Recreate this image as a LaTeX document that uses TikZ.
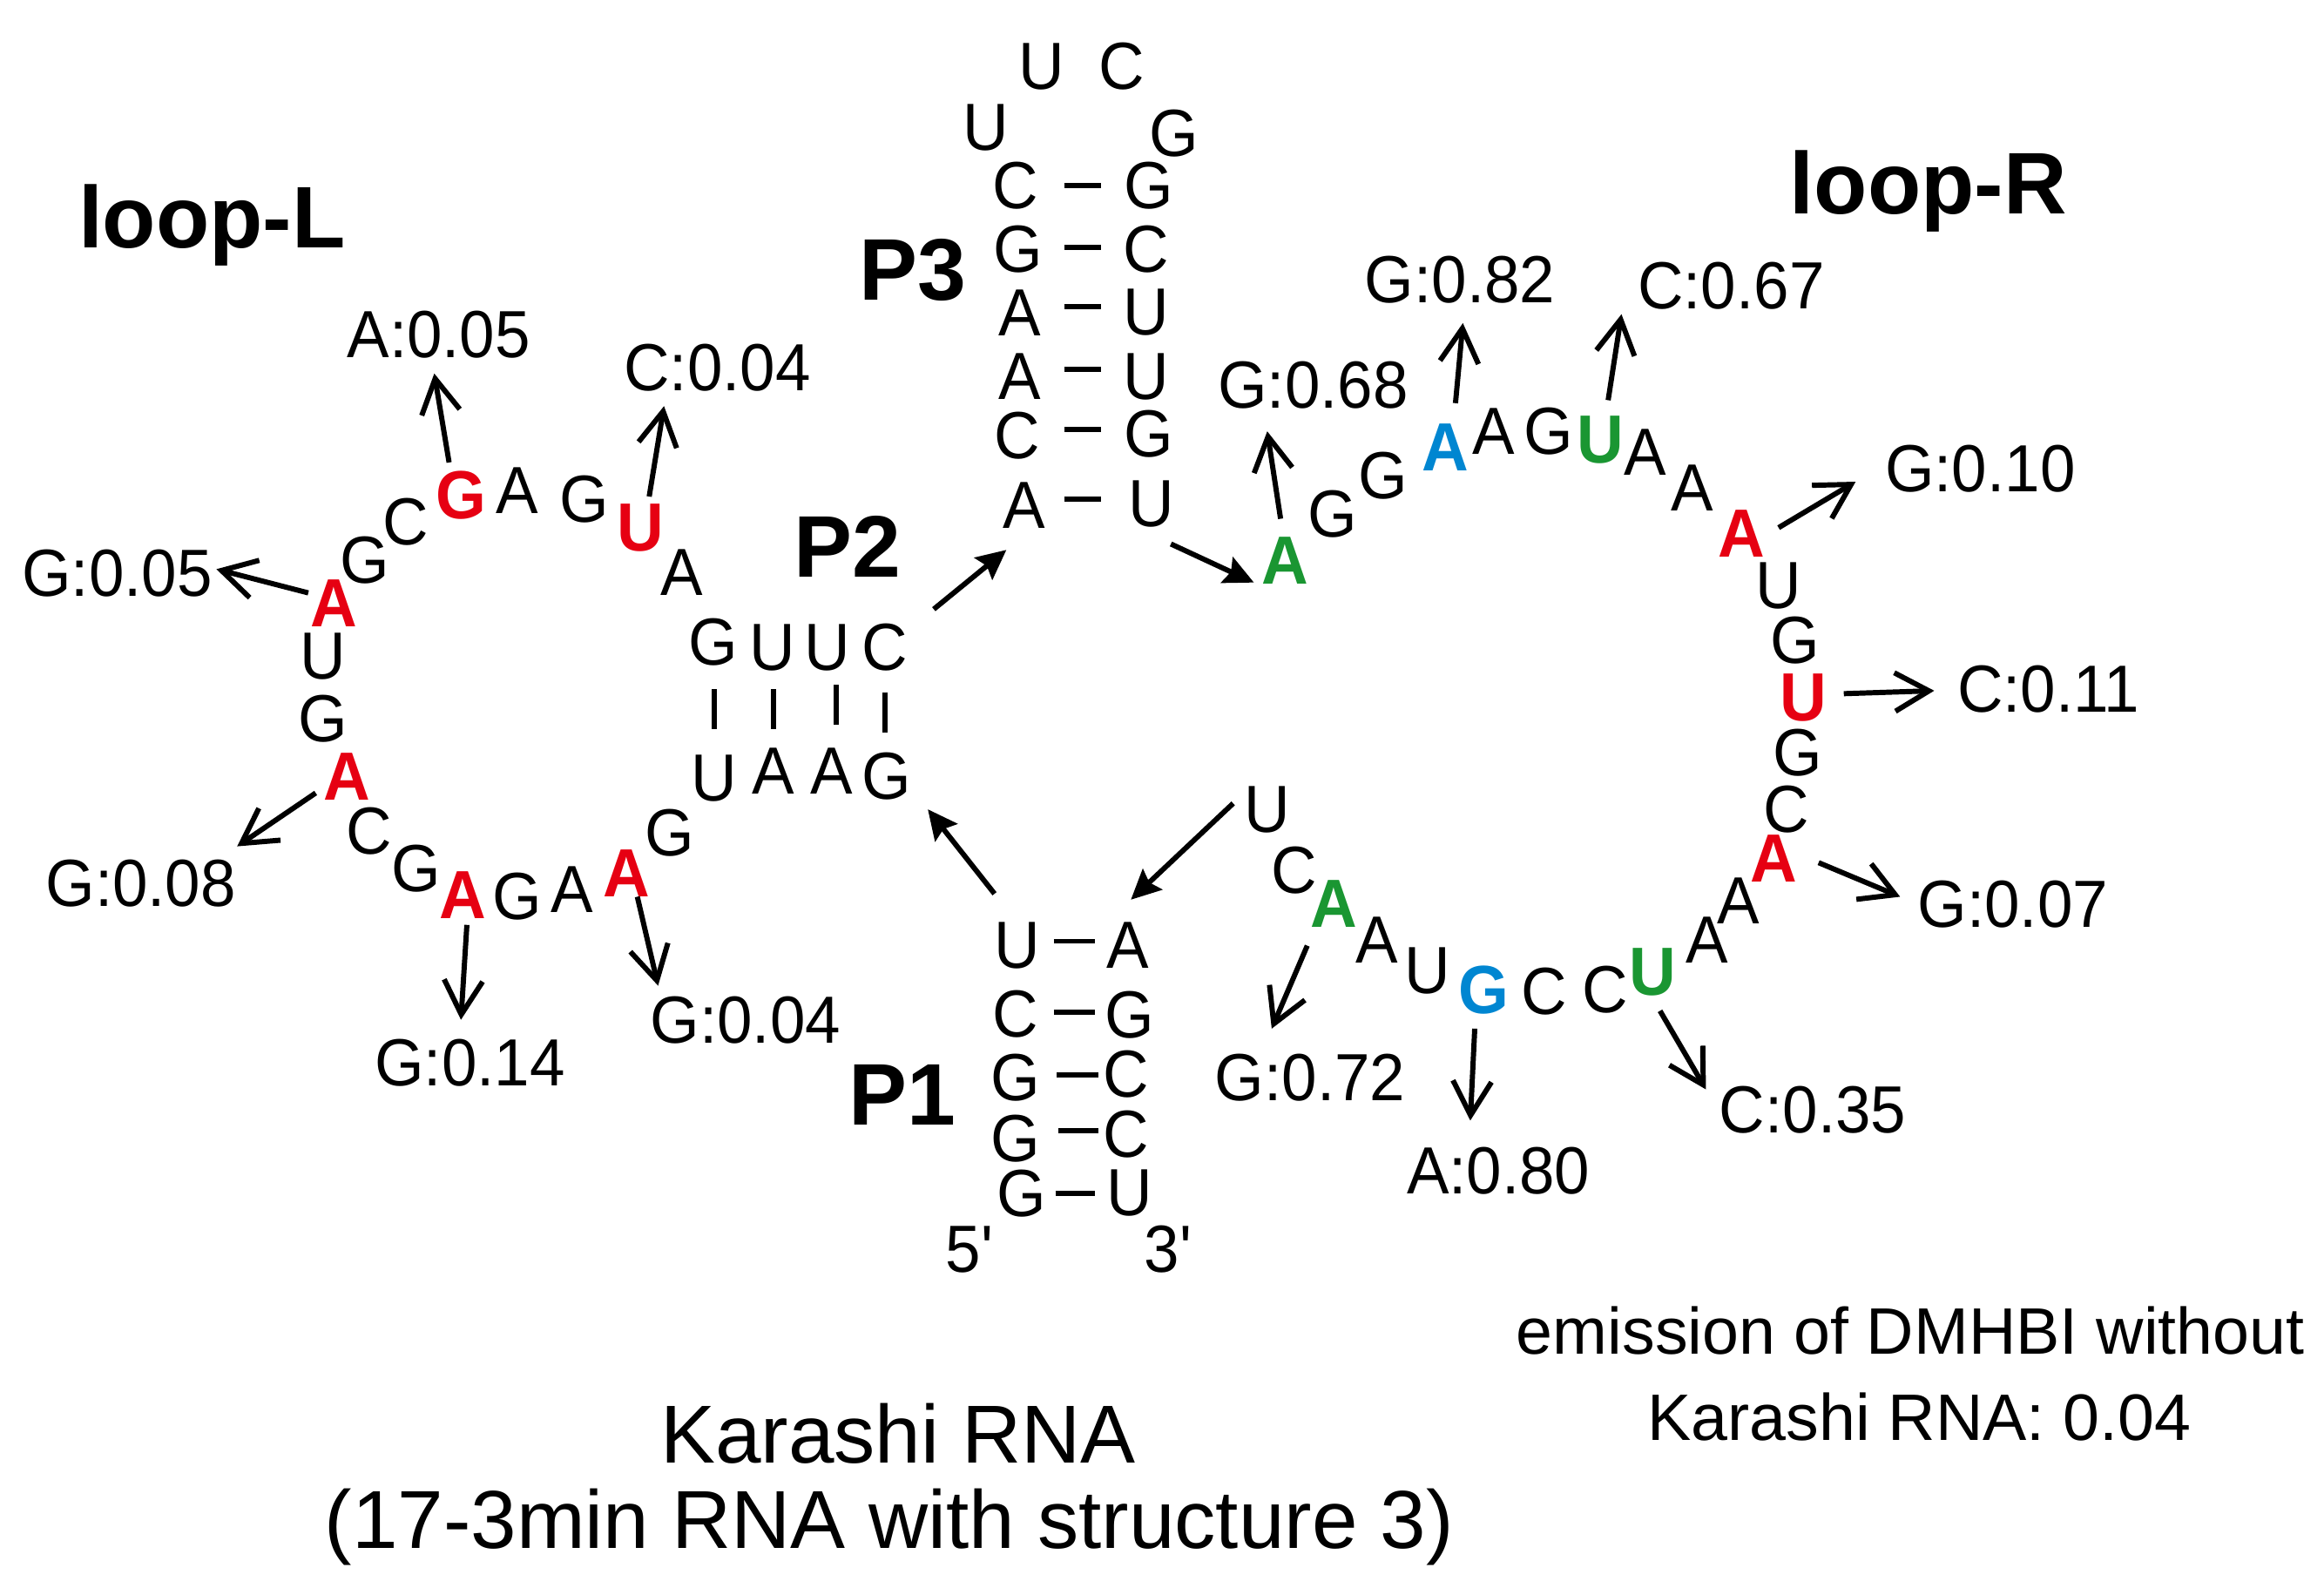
\documentclass[tikz,border=0pt]{standalone}
\usepackage{fontspec}
\setmainfont{Liberation Sans}
\newfontfamily\nrw[FakeStretch=0.95]{Liberation Sans}
\usetikzlibrary{arrows.meta}
\definecolor{rnared}{HTML}{E60012}
\definecolor{rnagreen}{HTML}{1A9632}
\definecolor{rnablue}{HTML}{0086D1}
\tikzset{
 nt/.style={inner sep=0pt,font=\nrw\fontsize{45}{45}\selectfont,text=black},
 bnt/.style={inner sep=0pt,font=\nrw\bfseries\fontsize{46}{46}\selectfont},
 redn/.style={bnt,text=rnared},
 greenn/.style={bnt,text=rnagreen},
 bluen/.style={bnt,text=rnablue},
 val/.style={nt},
 hd/.style={inner sep=0pt,font=\bfseries\fontsize{59}{59}\selectfont},
 captiontext/.style={inner sep=0pt,font=\fontsize{55.5}{63}\selectfont},
 notetext/.style={inner sep=0pt,font=\fontsize{44.3}{58}\selectfont},
 pair/.style={line width=3.5pt},
 openarr/.style={line width=3.5pt,-{Straight Barb[length=23pt,width=26pt,line width=3.5pt]}},
 fillarr/.style={line width=3.5pt,-{Stealth[length=20pt,width=19pt,inset=3pt]}},
}
\begin{document}
\begin{tikzpicture}[x=1pt,y=-1pt]
\useasboundingbox (0,0) rectangle (1568,1071);
% loop-L
\node[redn] (la1) at (225,407) {A};
\node[nt] (lu1) at (218,443) {U};
\node[nt] (lg1) at (218,485) {G};
\node[redn] (la2) at (234,524) {A};
\node[nt] (lc1) at (249,561) {C};
\node[nt] (lg2) at (281,586) {G};
\node[redn] (la3) at (312,604) {A};
\node[nt] (lg3) at (349,605) {G};
\node[nt] (la4) at (386,600) {A};
\node[redn] (la5) at (423,589) {A};
\node[nt] (lg4) at (452,562) {G};
\node[nt] (lg5) at (246,378) {G};
\node[nt] (lc2) at (274,352) {C};
\node[redn] (lg6) at (311,334) {G};
\node[nt] (la6) at (349,331) {A};
\node[nt] (lg7) at (394,337) {G};
\node[redn] (lu2) at (432,356) {U};
\node[nt] (la7) at (460,386) {A};
% P2
\node[nt] (p2a) at (481,433) {G};
\node[nt] (p2b) at (521,437) {U};
\node[nt] (p2c) at (558,437) {U};
\node[nt] (p2d) at (597,437) {C};
\node[nt] (p2e) at (482,525) {U};
\node[nt] (p2f) at (522,520) {A};
\node[nt] (p2g) at (561,520) {A};
\node[nt] (p2h) at (598,524) {G};
\draw[pair] ([shift={(1,32)}]p2a.center) -- ([shift={(0,-33)}]p2e.center);
\draw[pair] ([shift={(1,28)}]p2b.center) -- ([shift={(0,-28)}]p2f.center);
\draw[pair] ([shift={(6,25)}]p2c.center) -- ([shift={(3,-31)}]p2g.center);
\draw[pair] ([shift={(0,30)}]p2d.center) -- ([shift={(-1,-30)}]p2h.center);
% P3
\node[nt] (p3a) at (685,125) {C};
\node[nt] (p3b) at (687,168) {G};
\node[nt] (p3c) at (688,211) {A};
\node[nt] (p3d) at (688,254) {A};
\node[nt] (p3e) at (686,294) {C};
\node[nt] (p3f) at (691,341) {A};
\node[nt] (p3g) at (775,125) {G};
\node[nt] (p3h) at (773,168) {C};
\node[nt] (p3i) at (773,211) {U};
\node[nt] (p3j) at (773,254) {U};
\node[nt] (p3k) at (775,293) {G};
\node[nt] (p3l) at (777,340) {U};
\draw[pair] ([shift={(33,0)}]p3a.center) -- ([shift={(-32,0)}]p3g.center);
\draw[pair] ([shift={(31,-1)}]p3b.center) -- ([shift={(-30,-1)}]p3h.center);
\draw[pair] ([shift={(30,-4)}]p3c.center) -- ([shift={(-30,-4)}]p3i.center);
\draw[pair] ([shift={(30,-5)}]p3d.center) -- ([shift={(-30,-5)}]p3j.center);
\draw[pair] ([shift={(32,-4)}]p3e.center) -- ([shift={(-32,-3)}]p3k.center);
\draw[pair] ([shift={(27,-4)}]p3f.center) -- ([shift={(-34,-3)}]p3l.center);
\node[nt] (p3m) at (665,86) {U};
\node[nt] (p3n) at (703,45) {U};
\node[nt] (p3o) at (757,45) {C};
\node[nt] (p3p) at (792,90) {G};
% P1
\node[nt] (p1a) at (686,638) {U};
\node[nt] (p1b) at (685,684) {C};
\node[nt] (p1c) at (685,727) {G};
\node[nt] (p1d) at (685,768) {G};
\node[nt] (p1e) at (689,805) {G};
\node[nt] (p1f) at (761,638) {A};
\node[nt] (p1g) at (762,685) {G};
\node[nt] (p1h) at (760,725) {C};
\node[nt] (p1i) at (760,765) {C};
\node[nt] (p1j) at (762,805) {U};
\draw[pair] ([shift={(25,-3)}]p1a.center) -- ([shift={(-22,-3)}]p1f.center);
\draw[pair] ([shift={(26,-1)}]p1b.center) -- ([shift={(-23,-2)}]p1g.center);
\draw[pair] ([shift={(28,-2)}]p1c.center) -- ([shift={(-19,0)}]p1h.center);
\draw[pair] ([shift={(29,-5)}]p1d.center) -- ([shift={(-19,-2)}]p1i.center);
\draw[pair] ([shift={(23,0)}]p1e.center) -- ([shift={(-23,0)}]p1j.center);
\node[nt] (five) at (654,843) {5'};
\node[nt] (three) at (788,843) {3'};
% loop-R
\node[nt] (r1) at (855,546) {U};
\node[nt] (r2) at (873,587) {C};
\node[greenn] (r3) at (900,610) {A};
\node[nt] (r4) at (929,634) {A};
\node[nt] (r5) at (963,655) {U};
\node[bluen] (r6) at (1001,668) {G};
\node[nt] (r7) at (1042,669) {C};
\node[nt] (r8) at (1083,668) {C};
\node[greenn] (r9) at (1115,656) {U};
\node[nt] (r10) at (1152,634) {A};
\node[nt] (r11) at (1173,608) {A};
\node[redn] (r12) at (1197,579) {A};
\node[nt] (r13) at (1205,546) {C};
\node[nt] (r14) at (1213,508) {G};
\node[redn] (r15) at (1217,471) {U};
\node[nt] (r16) at (1211,432) {G};
\node[nt] (r17) at (1200,395) {U};
\node[redn] (r18) at (1175,360) {A};
\node[nt] (r19) at (1142,329) {A};
\node[nt] (r20) at (1110,305) {A};
\node[greenn] (r21) at (1080,297) {U};
\node[nt] (r22) at (1045,291) {G};
\node[nt] (r23) at (1008,291) {A};
\node[bluen] (r24) at (975,302) {A};
\node[nt] (r25) at (933,321) {G};
\node[nt] (r26) at (899,347) {G};
\node[greenn] (r27) at (867,378) {A};
% values
\node[val] (v1) at (79,387) {G:0.05};
\node[val] (v2) at (296,226) {A:0.05};
\node[val] (v3) at (484,248) {C:0.04};
\node[val] (v4) at (95,596) {G:0.08};
\node[val] (v5) at (317,717) {G:0.14};
\node[val] (v6) at (503,688) {G:0.04};
\node[val] (v7) at (886,260) {G:0.68};
\node[val] (v8) at (985,189) {G:0.82};
\node[val] (v9) at (1168,193) {C:0.67};
\node[val] (v10) at (1336,316) {G:0.10};
\node[val] (v11) at (1382,465) {C:0.11};
\node[val] (v12) at (1358,610) {G:0.07};
\node[val] (v13) at (1223,749) {C:0.35};
\node[val] (v14) at (1011,790) {A:0.80};
\node[val] (v15) at (884,727) {G:0.72};
% open arrows
\draw[openarr] ([shift={(-17,-7)}]la1.center) -- ([shift={(67,-3)}]v1.center);
\draw[openarr] ([shift={(-8,-22)}]lg6.center) -- ([shift={(-3,26)}]v2.center);
\draw[openarr] ([shift={(6,-21)}]lu2.center) -- ([shift={(-36,26)}]v3.center);
\draw[openarr] ([shift={(-21,11)}]la2.center) -- ([shift={(65,-25)}]v4.center);
\draw[openarr] ([shift={(3,20)}]la3.center) -- ([shift={(-6,-29)}]v5.center);
\draw[openarr] ([shift={(7,16)}]la5.center) -- ([shift={(-59,-23)}]v6.center);
\draw[openarr] ([shift={(-3,-28)}]r27.center) -- ([shift={(-31,31)}]v7.center);
\draw[openarr] ([shift={(7,-30)}]r24.center) -- ([shift={(2,29)}]v8.center);
\draw[openarr] ([shift={(5,-27)}]r21.center) -- ([shift={(-74,19)}]v9.center);
\draw[openarr] ([shift={(25,-4)}]r18.center) -- ([shift={(-84,9)}]v10.center);
\draw[openarr] ([shift={(27,-3)}]r15.center) -- ([shift={(-77,1)}]v11.center);
\draw[openarr] ([shift={(30,3)}]r12.center) -- ([shift={(-76,-5)}]v12.center);
\draw[openarr] ([shift={(5,26)}]r9.center) -- ([shift={(-72,-14)}]v13.center);
\draw[openarr] ([shift={(-6,26)}]r6.center) -- ([shift={(-19,-34)}]v14.center);
\draw[openarr] ([shift={(-18,28)}]r3.center) -- ([shift={(-26,-33)}]v15.center);
% filled arrows
\draw[fillarr] ([shift={(33,-26)}]p2d.center) -- ([shift={(-12,30)}]p3f.center);
\draw[fillarr] ([shift={(13,27)}]p3l.center) -- ([shift={(-21,15)}]r27.center);
\draw[fillarr] ([shift={(-15,-35)}]p1a.center) -- ([shift={(28,22)}]p2h.center);
\draw[fillarr] ([shift={(-23,-4)}]r1.center) -- ([shift={(2,-31)}]p1f.center);
% headings
\node[hd] (hl) at (143,152) {loop-L};
\node[hd] (hr) at (1301,129) {loop-R};
\node[hd] (h3) at (616,182) {P3};
\node[hd] (h2) at (572,369) {P2};
\node[hd] (h1) at (609,739) {P1};
\node[captiontext] (title1) at (606,967) {Karashi RNA};
\node[captiontext] (title2) at (600,1030) {(17-3min RNA with structure 3)};
\node[notetext] (emis1) at (1289,898) {emission of DMHBI without};
\node[notetext] (emis2) at (1295,956) {Karashi RNA: 0.04};
\end{tikzpicture}
\end{document}
